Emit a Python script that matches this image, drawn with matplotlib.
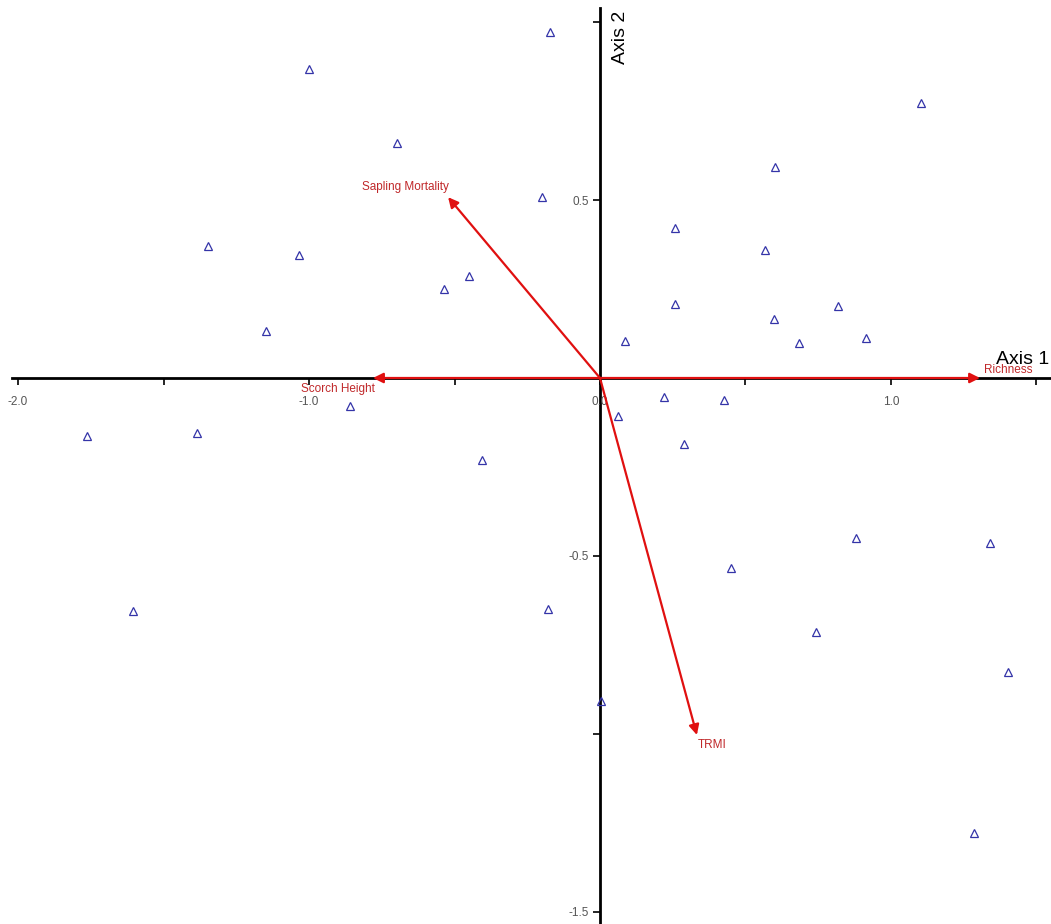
import matplotlib
matplotlib.use("Agg")
import matplotlib.pyplot as plt
from matplotlib import font_manager

# ── Ordination scores (sites) ────────────────────────────────────────────────
site_x = [-0.172, -1.000, -0.698, 1.103, 0.601, -0.199, -1.347, -1.034, 0.258,
          0.567, -0.450, -0.536, -1.148, 0.258, 0.598, 0.818, 0.914, 0.086,
          0.684, -0.859, 0.220, 0.426, 0.062, -1.763, -1.385, 0.289, -0.405,
          0.880, 1.340, 0.450, -1.605, -0.179, 0.742, 1.402, 0.003, 1.285]
site_y = [0.972, 0.868, 0.660, 0.772, 0.593, 0.508, 0.371, 0.346, 0.421,
          0.360, 0.287, 0.250, 0.132, 0.208, 0.166, 0.202, 0.112, 0.104,
          0.098, -0.079, -0.053, -0.062, -0.107, -0.163, -0.154, -0.185, -0.230,
          -0.449, -0.463, -0.534, -0.654, -0.649, -0.713, -0.826, -0.907, -1.278]

# ── Environmental vectors (biplot) ───────────────────────────────────────────
env_names = ["Sapling Mortality", "Scorch Height", "Richness", "TRMI"]
env_x = [-0.522, -0.780, 1.306, 0.333]
env_y = [0.508, 0.0, 0.0, -1.003]
# label offsets from arrow tip (points)
env_off = [(-31, 7), (-25, -8), (20, 6), (11, -7)]

x_ticks = [-2.0, -1.5, -1.0, -0.5, 0.0, 0.5, 1.0, 1.5]
x_labels = ["-2.0", "", "-1.0", "", "0.0", "", "1.0", ""]
y_ticks = [1.0, 0.5, 0.0, -0.5, -1.0, -1.5]
y_labels = ["", "0.5", "", "-0.5", "", "-1.5"]

names = {f.name for f in font_manager.fontManager.ttflist}
fam = "Liberation Sans Narrow" if "Liberation Sans Narrow" in names else "Liberation Sans"
plt.rcParams["font.family"] = [fam, "DejaVu Sans"]

fig = plt.figure(figsize=(10.51, 9.24), dpi=100)
ax = fig.add_axes([0, 0, 1, 1])
ax.set_xlim(-2.062, 1.550)
ax.set_ylim(-1.534, 1.062)

for s in ("top", "right"):
    ax.spines[s].set_visible(False)
ax.spines["bottom"].set_position(("data", 0))
ax.spines["left"].set_position(("data", 0))
ax.spines["bottom"].set_bounds(-2.021, 1.550)
ax.spines["left"].set_bounds(-1.534, 1.039)
for s in ("bottom", "left"):
    ax.spines[s].set_linewidth(2.0)
    ax.spines[s].set_zorder(1)

ax.set_xticks(x_ticks)
ax.set_xticklabels(x_labels)
ax.set_yticks(y_ticks)
ax.set_yticklabels(y_labels)
ax.tick_params(axis="both", direction="out", length=5, width=1.2,
               colors="black", labelcolor="#555555", labelsize=8.5)
ax.tick_params(axis="x", pad=8)
ax.tick_params(axis="y", pad=3)

# site points
ax.plot(site_x, site_y, linestyle="none", marker="^", markersize=6,
        markerfacecolor="none", markeredgecolor="#3434a8",
        markeredgewidth=0.9, zorder=4)

# environmental arrows
for name, ex, ey, off in zip(env_names, env_x, env_y, env_off):
    ax.annotate("", xy=(ex, ey), xytext=(0, 0),
                arrowprops=dict(arrowstyle="-|>", color="#e01010", lw=1.6,
                                mutation_scale=15, shrinkA=0, shrinkB=0),
                zorder=3)
    ax.annotate(name, xy=(ex, ey), xytext=off, textcoords="offset points",
                ha="center", va="center", color="#c0282a", fontsize=8.5,
                zorder=5)

ax.text(1.543, 0.052, "Axis 1", ha="right", va="center", fontsize=14,
        color="black")
ax.text(0.072, 0.958, "Axis 2", ha="center", va="center", rotation=90,
        fontsize=14, color="black")

fig.savefig("out.png", dpi=100)
